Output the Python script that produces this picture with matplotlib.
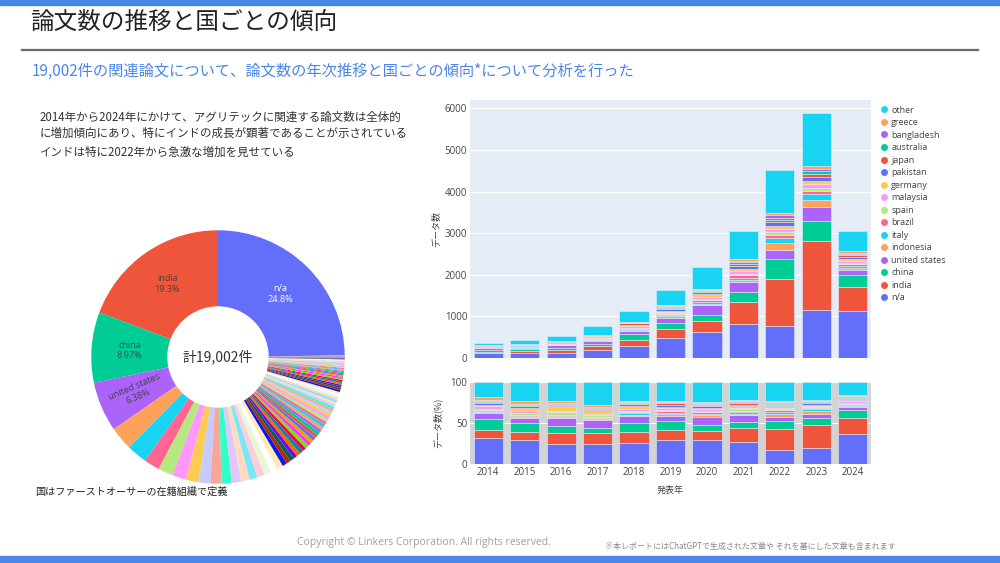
import colorsys
import matplotlib
matplotlib.use("Agg")
import matplotlib.pyplot as plt
import numpy as np
from matplotlib.lines import Line2D
from matplotlib.patches import Rectangle

plt.rcParams['font.family'] = ['Noto Sans CJK JP', 'DejaVu Sans']

W, H = 1000, 563

# ---- data ----
years = ["2014", "2015", "2016", "2017", "2018", "2019", "2020", "2021", "2022", "2023", "2024"]

series_names = ["n/a", "india", "china", "united states", "indonesia", "italy", "brazil",
                "spain", "malaysia", "germany", "pakistan", "japan", "australia",
                "bangladesh", "greece", "other"]

na_counts = [117, 131, 132, 188, 283, 487, 633, 817, 759, 1160, 1125]
india_counts = [38, 39, 72, 103, 156, 200, 258, 522, 1144, 1643, 576]
china_counts = [48, 50, 44, 44, 129, 166, 142, 238, 475, 495, 290]
us_counts = [27, 26, 55, 75, 90, 115, 230, 241, 208, 324, 113]
indonesia_counts = [3, 4, 6, 10, 22, 30, 45, 60, 185, 184, 60]
italy_counts = [7, 8, 8, 12, 20, 28, 40, 55, 104, 144, 45]
brazil_counts = [5, 6, 7, 9, 18, 25, 38, 50, 80, 70, 40]
spain_counts = [4, 12, 16, 17, 14, 22, 30, 45, 65, 70, 35]
malaysia_counts = [14, 10, 8, 14, 30, 38, 50, 70, 90, 90, 45]
germany_counts = [5, 9, 27, 21, 22, 30, 38, 50, 70, 80, 40]
pakistan_counts = [6, 6, 6, 10, 20, 30, 45, 60, 80, 90, 55]
japan_counts = [8, 12, 9, 18, 28, 40, 40, 55, 60, 75, 45]
australia_counts = [4, 5, 5, 8, 10, 18, 25, 40, 55, 65, 35]
bangladesh_counts = [3, 4, 4, 7, 8, 12, 20, 36, 50, 60, 30]
greece_counts = [13, 14, 17, 18, 20, 22, 30, 40, 55, 56, 34]
other_counts = [68, 104, 124, 216, 260, 377, 526, 671, 1040, 1284, 482]

# pie: country share of all papers (19,002)
pie_labels = ["n/a", "india", "china", "united states"]
pie_counts = [4712, 3667, 1704, 1212]
pie_rest_counts = [570, 495, 380, 360, 342, 304,
                   285, 266, 247, 228, 209, 190, 181, 171, 162, 152,
                   110, 105, 101, 97, 95, 93, 91, 89, 86, 83,
                   82, 80, 79, 77, 76, 75, 74, 73, 72, 72,
                   66, 63, 61, 59, 57, 56, 55, 53, 51, 49,
                   47, 45, 43, 42, 40, 39, 38, 37, 35, 34,
                   31, 29, 28, 26, 25, 24, 23, 22, 21, 21,
                   19, 18, 16, 15, 14, 13, 12, 12, 11, 10,
                   9, 8, 8, 7, 7, 6, 6, 6, 5, 5, 4, 4, 4, 3, 3, 3, 2, 2, 2, 1]

plotly_colors = ['#636EFA', '#EF553B', '#00CC96', '#AB63FA', '#FFA15A',
                 '#19D3F3', '#FF6692', '#B6E880', '#FF97FF', '#FECB52']


def fx(px):
    return px / W


def fy(py):
    return 1 - py / H


def shift_light(hexcol, amount):
    r, g, b = matplotlib.colors.to_rgb(hexcol)
    h, l, s = colorsys.rgb_to_hls(r, g, b)
    l = min(1.0, max(0.0, l + amount))
    return colorsys.hls_to_rgb(h, l, s)


# plotly extends pie colours with lighter and darker versions
pie_palette = list(plotly_colors)
pie_palette += [shift_light(c, 0.2) for c in plotly_colors]
pie_palette += [shift_light(c, -0.2) for c in plotly_colors]

fig = plt.figure(figsize=(10, 5.63), dpi=100)
fig.patch.set_facecolor('white')

# header / footer bands
fig.patches.append(Rectangle((0, fy(5)), 1, 5 / H, transform=fig.transFigure,
                             color='#4a86e8', zorder=0))
fig.patches.append(Rectangle((0, 0), 1, 7 / H, transform=fig.transFigure,
                             color='#4a86e8', zorder=0))
fig.add_artist(Line2D([fx(22), fx(978)], [fy(50), fy(50)], color='#6a6a6a', lw=1.6))

fig.text(fx(30), fy(22), "論文数の推移と国ごとの傾向", fontsize=17, color='#222222',
         va='center', ha='left')
fig.text(fx(32), fy(71),
         "19,002件の関連論文について、論文数の年次推移と国ごとの傾向*について分析を行った",
         fontsize=11, color='#4a86e8', va='center', ha='left')

fig.text(fx(40), fy(117), "2014年から2024年にかけて、アグリテックに関連する論文数は全体的",
         fontsize=8.3, color='#333333', va='center')
fig.text(fx(40), fy(133), "に増加傾向にあり、特にインドの成長が顕著であることが示されている",
         fontsize=8.3, color='#333333', va='center')
fig.text(fx(40), fy(152), "インドは特に2022年から急激な増加を見せている",
         fontsize=8.3, color='#333333', va='center')
fig.text(fx(35), fy(492), "国はファーストオーサーの在籍組織で定義",
         fontsize=7.3, color='#222222', va='center')
fig.text(fx(424), fy(543), "Copyright © Linkers Corporation. All rights reserved.",
         fontsize=7.5, color='#a0a0a0', va='center', ha='center', family='Open Sans')
fig.text(fx(605), fy(546), "※本レポートにはChatGPTで生成された文章や それを基にした文章も含まれます",
         fontsize=5.8, color='#8a8a8a', va='center', ha='left')

# ---- donut ----
axp = fig.add_axes([fx(90), fy(485), 256 / W, 256 / H])
all_pie = pie_counts + pie_rest_counts
pie_total = sum(all_pie)
pie_cols = [pie_palette[i % len(pie_palette)] for i in range(len(all_pie))]
start = 90 - 360 * pie_counts[0] / pie_total
wedges, _ = axp.pie(all_pie, colors=pie_cols, startangle=start, counterclock=True,
                    radius=1, wedgeprops=dict(width=0.6, linewidth=0))
axp.set_xlim(-1.01, 1.01)
axp.set_ylim(-1.01, 1.01)
for i, lab in enumerate(pie_labels):
    w = wedges[i]
    mid = np.deg2rad((w.theta1 + w.theta2) / 2)
    frac = all_pie[i] / pie_total
    r = 0.7
    rot = 0
    if frac < 0.07:
        rot = np.rad2deg(mid) - 180
    pct = 100 * frac
    pct_txt = f"{pct:.1f}%" if pct >= 10 else f"{pct:.2f}%"
    txtcol = 'white' if i == 0 else '#444444'
    axp.text(r * np.cos(mid), r * np.sin(mid), f"{lab}\n{pct_txt}", ha='center', va='center',
             fontsize=6.6, color=txtcol, rotation=rot, family='Open Sans', linespacing=1.2)
axp.text(0, 0, f"計{pie_total:,}件", ha='center', va='center', fontsize=10, color='#333333')

# ---- stacked bars ----
all_series = [na_counts, india_counts, china_counts, us_counts, indonesia_counts,
              italy_counts, brazil_counts, spain_counts, malaysia_counts, germany_counts,
              pakistan_counts, japan_counts, australia_counts, bangladesh_counts,
              greece_counts, other_counts]
data = np.array(all_series, dtype=float)
totals = data.sum(axis=0)
x = np.arange(len(years))
colors = [plotly_colors[i % 10] for i in range(len(series_names))]

ax1 = fig.add_axes([fx(470), fy(358), 401 / W, 258 / H])
ax2 = fig.add_axes([fx(470), fy(464), 401 / W, 82 / H])

bottom = np.zeros(len(years))
for vals, col in zip(data, colors):
    ax1.bar(x, vals, 0.8, bottom=bottom, color=col, edgecolor='#E5ECF6', linewidth=0.4, zorder=3)
    bottom += vals

pct = data / totals * 100
bottom = np.zeros(len(years))
for vals, col in zip(pct, colors):
    ax2.bar(x, vals, 0.8, bottom=bottom, color=col, edgecolor='#E5ECF6', linewidth=0.4, zorder=3)
    bottom += vals

for ax, bg in ((ax1, '#E5ECF6'), (ax2, '#D3D3D3')):
    ax.set_facecolor(bg)
    for s in ax.spines.values():
        s.set_visible(False)
    ax.set_xlim(-0.5, len(years) - 0.5)
    ax.grid(axis='y', color='white', lw=0.8, zorder=0)
    ax.tick_params(length=0, labelsize=7, labelcolor='#444444', pad=2)

ax1.set_ylim(0, 6200)
ax1.set_yticks([0, 1000, 2000, 3000, 4000, 5000, 6000])
ax1.set_yticklabels(["0", "1000", "2000", "3000", "4000", "5000", "6000"], family='Open Sans')
ax1.set_xticks(x)
ax1.set_xticklabels([])
ax1.set_ylabel("データ数", fontsize=6.5, color='#444444', labelpad=3)

ax2.set_ylim(0, 100)
ax2.set_yticks([0, 50, 100])
ax2.set_yticklabels(["0", "50", "100"], family='Open Sans')
ax2.set_xticks(x)
ax2.set_xticklabels(years, family='Open Sans')
ax2.set_ylabel("データ数(%)", fontsize=6.5, color='#444444', labelpad=6)
ax2.set_xlabel("発表年", fontsize=6.5, color='#444444', labelpad=6)

handles = [Line2D([], [], marker='o', ls='', color=c, markersize=4) for c in colors]
fig.legend(handles[::-1], series_names[::-1], loc='upper left',
           bbox_to_anchor=(fx(876), fy(102)), frameon=False,
           prop={'family': 'Open Sans', 'size': 6.5}, labelcolor='#444444',
           handletextpad=0.3, labelspacing=0.39, handlelength=1.0, borderaxespad=0)

fig.savefig("out.png", dpi=100)
